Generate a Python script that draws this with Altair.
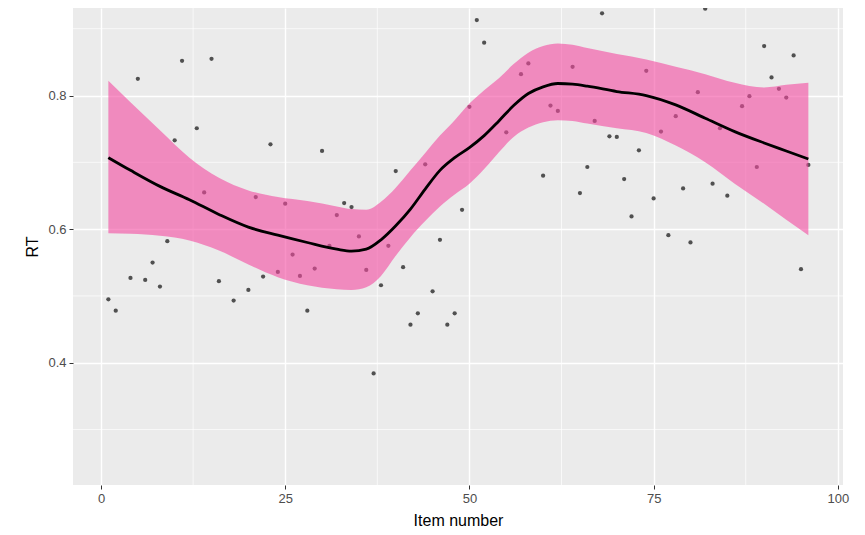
import altair as alt
import pandas as pd

# Observed items (x) and response times (y)
item = [1, 2, 4, 5, 6, 7, 8, 9, 10, 11, 13, 14, 15, 16, 18, 20, 21, 22, 23, 24,
        25, 26, 27, 28, 29, 30, 31, 32, 33, 34, 35, 36, 37, 38, 39, 40, 41, 42, 43, 44,
        45, 46, 47, 48, 49, 50, 51, 52, 55, 57, 58, 60, 61, 62, 64, 65, 66, 67, 68, 69,
        70, 71, 72, 73, 74, 75, 76, 77, 78, 79, 80, 81, 82, 83, 84, 85, 87, 88, 89, 90,
        91, 92, 93, 94, 95, 96]
rt = [0.495, 0.478, 0.527, 0.825, 0.524, 0.550, 0.514, 0.582, 0.733, 0.852, 0.751, 0.655, 0.855, 0.522, 0.493, 0.509, 0.648, 0.529, 0.727, 0.536,
      0.638, 0.562, 0.530, 0.478, 0.541, 0.717, 0.575, 0.621, 0.639, 0.633, 0.589, 0.539, 0.384, 0.516, 0.575, 0.687, 0.543, 0.457, 0.474, 0.697,
      0.507, 0.584, 0.457, 0.474, 0.629, 0.783, 0.913, 0.879, 0.745, 0.832, 0.848, 0.680, 0.785, 0.777, 0.843, 0.654, 0.693, 0.762, 0.923, 0.739,
      0.738, 0.675, 0.619, 0.718, 0.837, 0.646, 0.746, 0.591, 0.769, 0.661, 0.580, 0.805, 0.930, 0.668, 0.751, 0.650, 0.784, 0.799, 0.693, 0.874,
      0.827, 0.810, 0.797, 0.860, 0.540, 0.696]

# Smooth fit with confidence band
smooth_x = [1, 4, 8, 12, 16, 20, 24, 28, 32, 34, 36, 38, 40, 42, 44, 46, 48, 50, 52, 54,
            56, 58, 60, 62, 64, 66, 70, 74, 78, 82, 86, 90, 93, 96]
fit = [0.707, 0.688, 0.664, 0.644, 0.622, 0.603, 0.591, 0.580, 0.570, 0.567, 0.570, 0.584, 0.605, 0.630, 0.660, 0.688, 0.707, 0.722, 0.740, 0.762,
       0.785, 0.803, 0.813, 0.818, 0.817, 0.814, 0.806, 0.800, 0.786, 0.766, 0.746, 0.729, 0.717, 0.705]
lower = [0.594, 0.593, 0.590, 0.583, 0.568, 0.547, 0.528, 0.516, 0.510, 0.509, 0.513, 0.530, 0.560, 0.588, 0.612, 0.634, 0.652, 0.668, 0.690, 0.715,
         0.738, 0.752, 0.760, 0.763, 0.762, 0.758, 0.751, 0.744, 0.725, 0.700, 0.668, 0.638, 0.614, 0.591]
upper = [0.822, 0.790, 0.748, 0.707, 0.677, 0.658, 0.648, 0.642, 0.634, 0.630, 0.629, 0.641, 0.662, 0.688, 0.714, 0.740, 0.763, 0.788, 0.808, 0.826,
         0.847, 0.864, 0.874, 0.878, 0.876, 0.871, 0.862, 0.854, 0.843, 0.832, 0.819, 0.812, 0.816, 0.819]

x_major = [0, 25, 50, 75, 100]
x_minor = [12.5, 37.5, 62.5, 87.5]
y_major = [0.4, 0.6, 0.8]
y_minor = [0.3, 0.5, 0.7, 0.9]

pts = pd.DataFrame({"item": item, "rt": rt})
sm = pd.DataFrame({"item": smooth_x, "fit": fit, "lo": lower, "hi": upper})
gx = pd.DataFrame({"item": x_minor})
gy = pd.DataFrame({"rt": y_minor})

xs = alt.Scale(domain=[-3.8, 100.7], nice=False, zero=False)
ys = alt.Scale(domain=[0.217, 0.931], nice=False, zero=False)

xaxis = alt.Axis(values=x_major, title="Item number", format="d")
yaxis = alt.Axis(values=y_major, title="RT", format=".1f")

minor_x = alt.Chart(gx).mark_rule(color="white", strokeWidth=0.7).encode(
    x=alt.X("item:Q", scale=xs, axis=xaxis))
minor_y = alt.Chart(gy).mark_rule(color="white", strokeWidth=0.7).encode(
    y=alt.Y("rt:Q", scale=ys, axis=yaxis))

points = alt.Chart(pts).mark_circle(color="#505050", size=18, opacity=1).encode(
    x=alt.X("item:Q", scale=xs, axis=xaxis),
    y=alt.Y("rt:Q", scale=ys, axis=yaxis),
)

band = alt.Chart(sm).mark_area(color="#F349A0", opacity=0.6, interpolate="monotone").encode(
    x=alt.X("item:Q", scale=xs, axis=xaxis),
    y=alt.Y("lo:Q", scale=ys, axis=yaxis),
    y2="hi:Q",
)

line = alt.Chart(sm).mark_line(color="black", strokeWidth=2.8, interpolate="monotone").encode(
    x=alt.X("item:Q", scale=xs, axis=xaxis),
    y=alt.Y("fit:Q", scale=ys, axis=yaxis),
)

chart = alt.layer(minor_x, minor_y, points, band, line).properties(
    width=770, height=477,
    autosize=alt.AutoSizeParams(type="none"),
    padding={"left": 65, "top": 0, "right": 14, "bottom": 42},
).configure_view(
    fill="#EBEBEB", strokeWidth=0
).configure_axis(
    grid=True, gridColor="white", gridWidth=1.4,
    domain=False, tickColor="#333333", tickSize=4, tickWidth=1,
    labelColor="#4D4D4D", labelFontSize=13, labelFont="Liberation Sans", labelPadding=3,
    titleFont="Liberation Sans", titleFontSize=16, titleColor="black", titleFontWeight="normal",
    titlePadding=7,
)

chart.save("out.html", embed_options={"renderer": "svg", "actions": False})
